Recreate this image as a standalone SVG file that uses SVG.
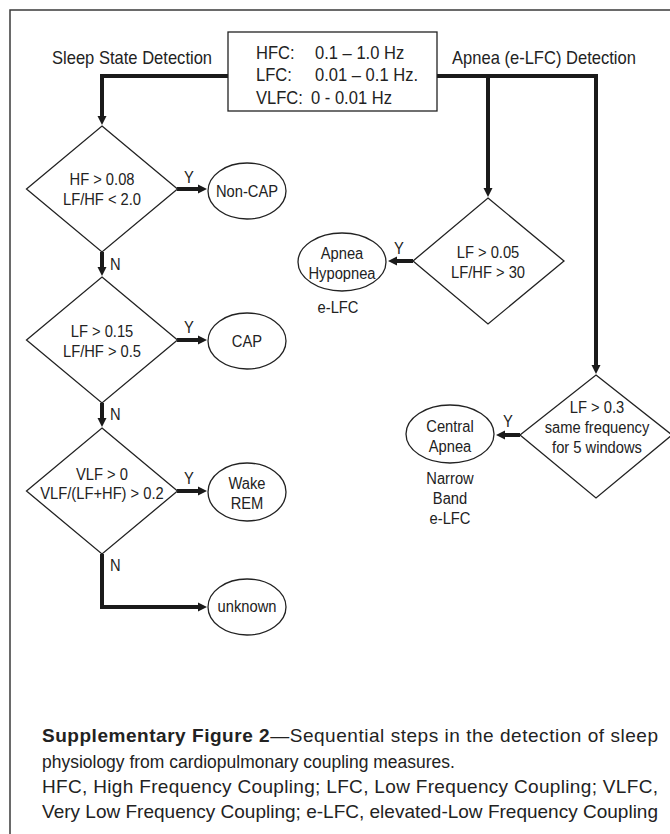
<svg xmlns="http://www.w3.org/2000/svg" width="670" height="834" viewBox="0 0 670 834">
<style>
text{font-family:"Liberation Sans",Arial,sans-serif;fill:#222}
.m{text-anchor:middle;font-size:16px}
.s{text-anchor:start;font-size:16px}
.h{font-size:18px}
.c{font-size:19px}
.shape{fill:#fff;stroke:#222;stroke-width:1.3}
.conn{fill:none;stroke:#1a1a1a;stroke-width:4}
</style>
<defs>
<marker id="ah" markerUnits="userSpaceOnUse" markerWidth="10" markerHeight="10" viewBox="0 -5 10 10" refX="1" refY="0" orient="auto">
<path d="M0,-4.5 L9,0 L0,4.5 z" fill="#1a1a1a"/>
</marker>
</defs>
<rect x="10" y="10" width="720" height="900" fill="none" stroke="#3a3a3a" stroke-width="1.5"/>

<g id="connectors">
<path class="conn" d="M228,76 H102 V117" marker-end="url(#ah)"/>
<path class="conn" d="M437,76 H596 V366" marker-end="url(#ah)"/>
<path class="conn" d="M488,76 V189" marker-end="url(#ah)"/>
<path class="conn" d="M177,189 H199" marker-end="url(#ah)"/>
<path class="conn" d="M102,252 V268" marker-end="url(#ah)"/>
<path class="conn" d="M177,340 H199" marker-end="url(#ah)"/>
<path class="conn" d="M102,403 V419" marker-end="url(#ah)"/>
<path class="conn" d="M177,491 H199" marker-end="url(#ah)"/>
<path class="conn" d="M102,554 V607 H199" marker-end="url(#ah)"/>
<path class="conn" d="M413,261 H396" marker-end="url(#ah)"/>
<path class="conn" d="M520,435 H504" marker-end="url(#ah)"/>
<text class="s" transform="translate(184 183) scale(.92 1)">Y</text>
<text class="s" transform="translate(184 333) scale(.92 1)">Y</text>
<text class="s" transform="translate(184 484) scale(.92 1)">Y</text>
<text class="s" transform="translate(394 254) scale(.92 1)">Y</text>
<text class="s" transform="translate(503 427) scale(.92 1)">Y</text>
<text class="s" transform="translate(110 270) scale(.92 1)">N</text>
<text class="s" transform="translate(110 420) scale(.92 1)">N</text>
<text class="s" transform="translate(110 571) scale(.92 1)">N</text>
</g>

<g id="label-sleep">
<text class="h" transform="translate(52 63.5) scale(.92 1)">Sleep State Detection</text>
</g>
<g id="label-apnea">
<text class="h" transform="translate(452 63.5) scale(.92 1)">Apnea (e-LFC) Detection</text>
</g>

<g id="bands">
<rect class="shape" x="228" y="32" width="209" height="79"/>
<text class="h" transform="translate(256 58.5) scale(.92 1)">HFC:</text>
<text class="h" transform="translate(315 58.5) scale(.92 1)">0.1 – 1.0 Hz</text>
<text class="h" transform="translate(256 81) scale(.92 1)">LFC:</text>
<text class="h" transform="translate(315 81) scale(.92 1)">0.01 – 0.1 Hz.</text>
<text class="h" transform="translate(256 103.5) scale(.92 1)">VLFC:</text>
<text class="h" transform="translate(311 103.5) scale(.92 1)">0 - 0.01 Hz</text>
</g>

<g id="d1">
<polygon class="shape" points="102,126 177.5,189 102,252 26.5,189"/>
<text class="m" transform="translate(102 185) scale(.92 1)">HF &gt; 0.08</text>
<text class="m" transform="translate(102 205) scale(.92 1)">LF/HF &lt; 2.0</text>
</g>
<g id="d2">
<polygon class="shape" points="102,277 177.5,340 102,403 26.5,340"/>
<text class="m" transform="translate(102 337) scale(.92 1)">LF &gt; 0.15</text>
<text class="m" transform="translate(102 357) scale(.92 1)">LF/HF &gt; 0.5</text>
</g>
<g id="d3">
<polygon class="shape" points="102,428 177.5,491 102,554 26.5,491"/>
<text class="m" transform="translate(102 480) scale(.92 1)">VLF &gt; 0</text>
<text class="m" transform="translate(102 499) scale(.92 1)">VLF/(LF+HF) &gt; 0.2</text>
</g>
<g id="noncap">
<ellipse class="shape" cx="247" cy="191" rx="39" ry="28"/>
<text class="m" transform="translate(247 197) scale(.92 1)">Non-CAP</text>
</g>
<g id="cap">
<ellipse class="shape" cx="247" cy="341" rx="39" ry="28"/>
<text class="m" transform="translate(247 347) scale(.92 1)">CAP</text>
</g>
<g id="wake">
<ellipse class="shape" cx="247" cy="492" rx="39" ry="29"/>
<text class="m" transform="translate(247 489) scale(.92 1)">Wake</text>
<text class="m" transform="translate(247 509) scale(.92 1)">REM</text>
</g>
<g id="unknown">
<ellipse class="shape" cx="247" cy="607" rx="39" ry="28"/>
<text class="m" transform="translate(247 612) scale(.92 1)">unknown</text>
</g>

<g id="a1">
<polygon class="shape" points="488,198 564,261 488,324 413,261"/>
<text class="m" transform="translate(488 258) scale(.92 1)">LF &gt; 0.05</text>
<text class="m" transform="translate(488 278) scale(.92 1)">LF/HF &gt; 30</text>
</g>
<g id="apnea-hypopnea">
<ellipse class="shape" cx="342" cy="262" rx="44" ry="29"/>
<text class="m" transform="translate(342 259) scale(.92 1)">Apnea</text>
<text class="m" transform="translate(342 279) scale(.92 1)">Hypopnea</text>
<text class="m" transform="translate(338 313) scale(.92 1)">e-LFC</text>
</g>
<g id="a2">
<polygon class="shape" points="596,375 672,435 596,498 520,435"/>
<text class="m" transform="translate(597 413) scale(.92 1)">LF &gt; 0.3</text>
<text class="m" transform="translate(597 433) scale(.92 1)">same frequency</text>
<text class="m" transform="translate(597 453) scale(.92 1)">for 5 windows</text>
</g>
<g id="central-apnea">
<ellipse class="shape" cx="450" cy="434" rx="44" ry="29"/>
<text class="m" transform="translate(450 432) scale(.92 1)">Central</text>
<text class="m" transform="translate(450 452) scale(.92 1)">Apnea</text>
<text class="m" transform="translate(450 484) scale(.92 1)">Narrow</text>
<text class="m" transform="translate(450 504) scale(.92 1)">Band</text>
<text class="m" transform="translate(450 524) scale(.92 1)">e-LFC</text>
</g>

<g id="caption">
<text class="c" x="42" y="742" textLength="616" lengthAdjust="spacing"><tspan font-weight="bold">Supplementary Figure 2</tspan>—Sequential steps in the detection of sleep</text>
<text class="c" transform="translate(42 768) scale(.92 1)">physiology from cardiopulmonary coupling measures.</text>
<text class="c" x="42" y="793" textLength="616" lengthAdjust="spacing">HFC, High Frequency Coupling; LFC, Low Frequency Coupling; VLFC,</text>
<text class="c" x="42" y="818" textLength="616" lengthAdjust="spacingAndGlyphs">Very Low Frequency Coupling; e-LFC, elevated-Low Frequency Coupling</text>
</g>
</svg>
